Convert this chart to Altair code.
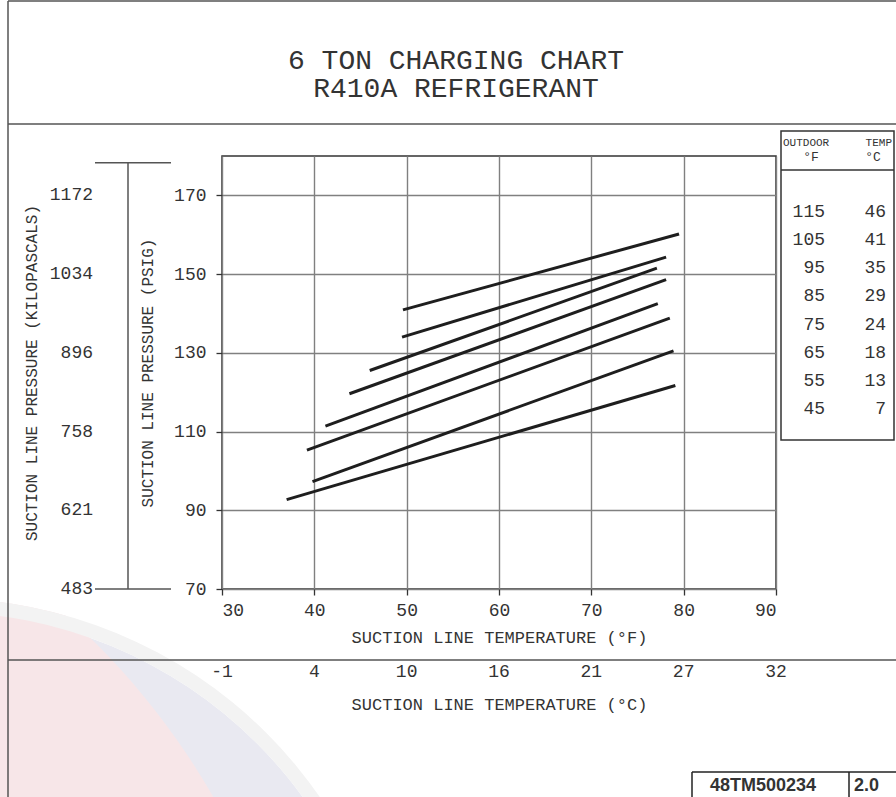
import altair as alt
import pandas as pd

# ---- chart data ---------------------------------------------------------
# Outdoor temperature for each charging curve
outdoor_f = [115, 105, 95, 85, 75, 65, 55, 45]
outdoor_c = [46, 41, 35, 29, 24, 18, 13, 7]
# Each curve: start and end point (suction line temp °F, suction pressure psig)
start_temp = [49.6, 49.5, 46.0, 43.8, 41.2, 39.2, 39.8, 37.0]
start_psig = [140.9, 134.0, 125.5, 119.6, 111.4, 105.3, 97.3, 92.7]
end_temp = [79.5, 78.1, 77.1, 78.1, 77.2, 78.5, 78.9, 79.1]
end_psig = [160.2, 154.3, 151.5, 148.6, 142.5, 138.8, 130.5, 121.7]

# Axis ticks and their secondary-unit labels
temp_f_ticks = [30, 40, 50, 60, 70, 80, 90]
temp_c_labels = ["-1", "4", "10", "16", "21", "27", "32"]
psig_ticks = [70, 90, 110, 130, 150, 170]
kpa_labels = ["483", "621", "758", "896", "1034", "1172"]
kpa_bracket_psig = [70, 178.3]

title_lines = ["6 TON CHARGING CHART", "R410A REFRIGERANT"]
drawing_no = "48TM500234"
revision = "2.0"

# ---- layout --------------------------------------------------------------
W, H = 554, 433          # plot frame
LEFT, TOP = 222, 156     # frame origin on the sheet
SHEET_W, SHEET_H = 896, 797

FONT = "Liberation Mono"
INK = "#333333"
LINE = "#555555"


def px(x):
    return x - LEFT


def py(y):
    return y - TOP


one = pd.DataFrame({"k": [0]})

xs = alt.Scale(domain=[30, 90], nice=False, zero=False)
ys = alt.Scale(domain=[70, 180], nice=False, zero=False)


def rule(x1, y1, x2, y2, color=LINE, width=1.5):
    return alt.Chart(one).mark_rule(color=color, strokeWidth=width).encode(
        x=alt.value(px(x1)), x2=alt.value(px(x2)),
        y=alt.value(py(y1)), y2=alt.value(py(y2)))


def disc(cx, cy, r_in, r_out, color):
    return alt.Chart(one).mark_arc(
        radius=r_out, radius2=r_in, theta=0, theta2=6.2832, fill=color
    ).encode(x=alt.value(px(cx)), y=alt.value(py(cy)))


def label(text, x, y, size=17, align="center", font=FONT, weight="normal"):
    return alt.Chart(one).mark_text(
        text=text, font=font, fontSize=size, fontWeight=weight, color=INK,
        align=align, baseline="middle"
    ).encode(x=alt.value(px(x)), y=alt.value(py(y)))


# faint logo watermark in the lower-left corner
watermark = [
    disc(-60, 1060, 0, 448, "#e9e9f1"),
    disc(-420, 1160, 0, 730, "#f7e6e8"),
    disc(-60, 1060, 462, 505, "#ffffff"),
    disc(-60, 1060, 448, 462, "#f3f3f3"),
]

# sheet border and separators
sheet = [
    rule(8, 1, SHEET_W, 1),
    rule(8, 1, 8, SHEET_H),
    rule(8, 124, SHEET_W, 124),
    rule(8, 660, SHEET_W, 660),
    rule(692, 772, SHEET_W, 772, "#222", 1.5),
    rule(692, 772, 692, SHEET_H, "#222", 1.5),
    rule(849, 772, 849, SHEET_H, "#222", 1.5),
]

title = alt.Chart(one).mark_text(
    text=title_lines, font=FONT, fontSize=28, color=INK, lineHeight=28,
    align="center", baseline="middle"
).encode(x=alt.value(px(456)), y=alt.value(py(60.5)))

# charging curves with the °F / psig axes
rows = []
for i, f in enumerate(outdoor_f):
    rows.append({"curve": f, "temp": start_temp[i], "psig": start_psig[i]})
    rows.append({"curve": f, "temp": end_temp[i], "psig": end_psig[i]})
curves_df = pd.DataFrame(rows)

curves = alt.Chart(curves_df).mark_line(
    color="#1e1e1e", strokeWidth=3, strokeCap="butt"
).encode(
    x=alt.X("temp:Q", scale=xs, axis=alt.Axis(
        orient="bottom", values=temp_f_ticks, grid=True, gridColor="#808080",
        gridWidth=1.4, domain=False, ticks=True, tickSize=6, tickColor="#333",
        tickWidth=1.3, labelFont=FONT, labelFontSize=18, labelColor=INK,
        labelPadding=6, title="SUCTION LINE TEMPERATURE (°F)", titleFont=FONT,
        titleFontSize=17, titleFontWeight="normal", titleColor=INK,
        titlePadding=10)),
    y=alt.Y("psig:Q", scale=ys, axis=alt.Axis(
        orient="left", values=psig_ticks, grid=True, gridColor="#808080",
        gridWidth=1.4, domain=False, ticks=True, tickSize=6, tickColor="#333",
        tickWidth=1.3, labelFont=FONT, labelFontSize=18, labelColor=INK,
        labelPadding=10, title="SUCTION LINE PRESSURE (PSIG)", titleFont=FONT,
        titleFontSize=16, titleFontWeight="normal", titleColor=INK,
        titlePadding=18)),
    detail="curve:N",
)

# kilopascal scale on the far left
kpa_df = pd.DataFrame({"psig": psig_ticks, "kpa": kpa_labels})
kpa_text = alt.Chart(kpa_df).mark_text(
    font=FONT, fontSize=18, color=INK, align="right", baseline="middle"
).encode(
    x=alt.value(px(93)),
    y=alt.Y("psig:Q", scale=ys, axis=alt.Axis(
        orient="left", labels=False, ticks=False, domain=False, grid=False,
        title="SUCTION LINE PRESSURE (KILOPASCALS)", titleFont=FONT,
        titleFontSize=16, titleFontWeight="normal", titleColor=INK,
        titlePadding=183)),
    text="kpa:N",
)
bracket_df = pd.DataFrame({"psig": kpa_bracket_psig})
kpa_stem = alt.Chart(bracket_df).mark_line(color=LINE, strokeWidth=1.5).encode(
    x=alt.value(px(128)), y=alt.Y("psig:Q", scale=ys, axis=None))
kpa_caps = alt.Chart(bracket_df).mark_rule(color=LINE, strokeWidth=1.5).encode(
    x=alt.value(px(95)), x2=alt.value(px(171)),
    y=alt.Y("psig:Q", scale=ys, axis=None))

# celsius labels under the °F axis
c_df = pd.DataFrame({"temp": temp_f_ticks, "c": temp_c_labels})
c_text = alt.Chart(c_df).mark_text(
    font=FONT, fontSize=18, color=INK, align="center", baseline="middle"
).encode(
    x=alt.X("temp:Q", scale=xs, axis=alt.Axis(
        orient="bottom", labels=False, ticks=False, domain=False, grid=False,
        title="SUCTION LINE TEMPERATURE (°C)", titleFont=FONT,
        titleFontSize=17, titleFontWeight="normal", titleColor=INK,
        titlePadding=107)),
    y=alt.value(py(672)),
    text="c:N",
)

# outdoor temperature table
leg_rows = []
for i in range(len(outdoor_f)):
    leg_rows.append({"row": i, "col": 0, "txt": str(outdoor_f[i])})
    leg_rows.append({"row": i, "col": 1, "txt": str(outdoor_c[i])})
leg_df = pd.DataFrame(leg_rows)
legend_text = alt.Chart(leg_df).mark_text(
    font=FONT, fontSize=18, color=INK, align="right", baseline="middle"
).encode(
    x=alt.X("col:Q", scale=alt.Scale(domain=[0, 1], range=[px(825), px(886)]),
            axis=None),
    y=alt.Y("row:Q", scale=alt.Scale(domain=[0, 7], range=[py(212), py(409)]),
            axis=None),
    text="txt:N",
)
legend_box = alt.Chart(one).mark_rect(
    fillOpacity=0, stroke="#333", strokeWidth=1.5
).encode(x=alt.value(px(781)), x2=alt.value(px(894)),
         y=alt.value(py(131)), y2=alt.value(py(440)))
legend_head = [
    rule(781, 170, 894, 170, "#333", 1.5),
    label("OUTDOOR", 783, 143, size=11, align="left"),
    label("TEMP", 892, 143, size=11, align="right"),
    label("°F", 811, 157, size=13),
    label("°C", 873, 157, size=13),
]

# drawing number block
stamp = [
    label(drawing_no, 763, 786, size=18, font="Liberation Sans", weight="bold"),
    label(revision, 854, 786, size=18, align="left", font="Liberation Sans",
          weight="bold"),
]

layers = (watermark + sheet + [title, curves, kpa_stem, kpa_caps, kpa_text,
                               c_text, legend_box] + legend_head
          + [legend_text] + stamp)

chart = alt.layer(*layers).resolve_scale(
    x="independent", y="independent"
).properties(
    width=W, height=H,
    autosize=alt.AutoSizeParams(type="none"),
    padding={"left": LEFT, "top": TOP, "right": SHEET_W - LEFT - W,
             "bottom": SHEET_H - TOP - H},
    background="white",
).configure_view(stroke="#333", strokeWidth=1.5)

chart.save("out.html", embed_options={"renderer": "svg", "actions": False})
